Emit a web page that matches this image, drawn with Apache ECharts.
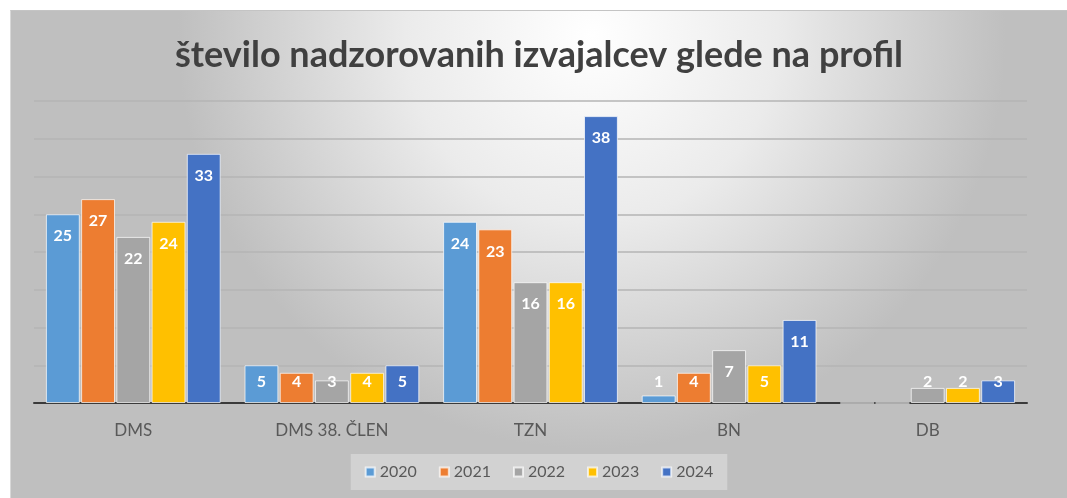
<!DOCTYPE html>
<html>
<head>
<meta charset="utf-8">
<script src="https://cdn.jsdelivr.net/npm/echarts@6/dist/echarts.min.js"></script>
<style>
  html, body { margin: 0; padding: 0; background: #ffffff; }
  #chart { position: absolute; left: 10px; top: 10px; width: 1057px; height: 488px; border-top: 1px solid #c4c4c4; border-left: 1px solid #d8d8d8; box-sizing: border-box; }
</style>
</head>
<body>
<div id="chart"></div>
<script>
// podatki
const categories = ['DMS', 'DMS 38. ČLEN', 'TZN', 'BN', 'DB'];
const years = ['2020', '2021', '2022', '2023', '2024'];
const values2020 = [25, 5, 24, 1, 0];
const values2021 = [27, 4, 23, 4, 0];
const values2022 = [22, 3, 16, 7, 2];
const values2023 = [24, 4, 16, 5, 2];
const values2024 = [33, 5, 38, 11, 3];
const colors = ['#5B9BD5', '#ED7D31', '#A5A5A5', '#FFC000', '#4472C4'];

const allValues = [values2020, values2021, values2022, values2023, values2024];
const font = 'Lato, "Open Sans", sans-serif';

const chart = echarts.init(document.getElementById('chart'));

// small bars: label sits just above the axis, like Excel does
function toData(arr) {
    return arr.map(v => {
        if (!v) return { value: v, label: { show: false } };
        if (v < 6) return { value: v, label: { position: 'insideBottom', distance: 13 } };
        return { value: v };
    });
}

const series = years.map((y, i) => ({
    name: y,
    type: 'bar',
    data: toData(allValues[i]),
    barGap: '4%',
    barCategoryGap: '12%',
    itemStyle: { color: colors[i], borderColor: 'rgba(255,255,255,0.7)', borderWidth: 1 },
    label: {
        show: true,
        position: 'insideTop',
        distance: 14,
        color: '#ffffff',
        fontWeight: 'bold',
        fontSize: 16,
        fontFamily: font
    }
}));

chart.setOption({
    backgroundColor: {
        type: 'radial',
        x: 0.55, y: 0.05, r: 0.85,
        colorStops: [
            { offset: 0, color: '#ffffff' },
            { offset: 0.45, color: '#ebebeb' },
            { offset: 1, color: '#bfbfbf' }
        ]
    },
    title: {
        text: 'število nadzorovanih izvajalcev glede na profil',
        left: 'center',
        top: 21,
        textStyle: { fontFamily: font, fontSize: 36, fontWeight: 'bold', color: '#404040' }
    },
    legend: {
        bottom: 8,
        left: 'center',
        itemWidth: 9,
        itemHeight: 9,
        itemGap: 22,
        icon: 'rect',
        padding: [10, 14],
        backgroundColor: 'rgba(255,255,255,0.3)',
        textStyle: { fontFamily: font, fontSize: 16, color: '#595959' }
    },
    grid: { left: 23, right: 40, top: 90, bottom: 95 },
    xAxis: {
        type: 'category',
        data: categories,
        axisLine: { lineStyle: { color: '#3a3a3a', width: 2 } },
        axisTick: { show: false },
        axisLabel: { margin: 19, fontFamily: font, fontSize: 17, color: '#595959' }
    },
    yAxis: {
        type: 'value',
        min: 0,
        max: 40,
        interval: 5,
        axisLabel: { show: false },
        axisLine: { show: false },
        axisTick: { show: false },
        splitLine: { lineStyle: { color: '#b4b4b4', width: 1.5 } }
    },
    series: series
});
</script>
</body>
</html>
